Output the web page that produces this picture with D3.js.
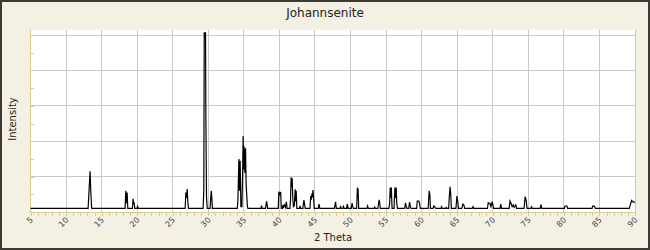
<!DOCTYPE html>
<html>
<head>
<meta charset="utf-8">
<script src="https://cdn.jsdelivr.net/npm/d3@7"></script>
<style>
  body { margin: 0; background: #f4f1e4; }
  svg { display: block; font-family: "DejaVu Sans", Verdana, sans-serif; }
</style>
</head>
<body>
<div id="xrd-chart"></div>
<script>
const chartTitle = "Johannsenite";
const xLabel = "2 Theta";
const yLabel = "Intensity";
const xTicks = [5, 10, 15, 20, 25, 30, 35, 40, 45, 50, 55, 60, 65, 70, 75, 80, 85, 90];
const xMinor = d3.range(5, 91, 1);
const yGrid = [20, 40, 60, 80, 100];
const yMinor = [0, 10, 20, 30, 40, 50, 60, 70, 80, 90, 100];

// [2 theta, intensity]
const pattern = [
  [5, 2],
  [13.1, 2], [13.25, 13.5], [13.38, 23], [13.48, 11], [13.6, 2],
  [18.3, 2], [18.4, 12], [18.5, 5], [18.59, 11], [18.68, 2],
  [19.33, 2], [19.43, 7.5], [19.5, 4.5], [19.57, 5.5], [19.66, 2],
  [19.97, 2], [20.05, 3.2], [20.18, 2],
  [26.75, 2], [26.84, 11], [26.94, 8], [27.03, 13], [27.12, 6], [27.22, 2],
  [29.27, 2], [29.37, 12.5], [29.43, 101.5], [29.52, 99], [29.61, 101.5], [29.66, 54], [29.75, 8.6], [29.85, 2],
  [30.25, 2], [30.34, 7.7], [30.42, 12], [30.5, 7.7], [30.58, 2],
  [34.08, 2], [34.17, 7], [34.3, 30], [34.39, 12], [34.48, 29], [34.58, 3], [34.72, 3], [34.82, 20], [34.9, 43],
  [34.97, 24], [35.04, 37], [35.14, 22], [35.24, 36], [35.32, 16], [35.4, 10], [35.5, 3], [35.58, 2],
  [37.4, 2], [37.49, 3.6], [37.58, 2],
  [38.04, 2], [38.12, 4.2], [38.19, 6], [38.27, 4.5], [38.35, 2],
  [39.84, 2], [39.92, 11.5], [40.06, 10], [40.18, 11.3], [40.26, 2],
  [40.42, 2], [40.5, 4], [40.6, 2.8], [40.72, 4], [40.84, 2.6], [40.98, 5.8], [41.08, 2],
  [41.48, 2], [41.56, 7], [41.65, 19.6], [41.72, 14], [41.79, 19], [41.88, 8], [41.97, 3], [42.1, 3.5],
  [42.22, 12.8], [42.29, 6], [42.36, 12], [42.45, 2],
  [42.82, 2], [42.9, 3.4], [43.0, 2],
  [43.3, 2], [43.37, 4.5], [43.45, 6.8], [43.55, 4], [43.63, 2],
  [44.3, 2], [44.4, 9], [44.48, 7], [44.56, 9.6], [44.64, 9], [44.72, 12.4], [44.8, 8], [44.9, 2],
  [45.45, 2], [45.57, 4.4], [45.68, 2],
  [47.72, 2], [47.82, 4], [47.9, 5.8], [48.0, 2],
  [48.5, 2], [48.6, 3], [48.7, 2], [48.9, 2], [49.0, 3.2], [49.1, 2],
  [49.44, 2], [49.55, 4.5], [49.66, 2],
  [50.1, 2], [50.22, 5], [50.32, 3], [50.4, 2],
  [50.86, 2], [50.96, 13.4], [51.06, 13], [51.15, 2],
  [52.3, 2], [52.4, 3.4], [52.5, 2],
  [53.3, 2], [53.4, 2.8], [53.5, 2],
  [53.85, 2], [53.94, 4.8], [54.03, 6.8], [54.12, 4.5], [54.2, 2],
  [55.4, 2], [55.5, 5], [55.58, 13.8], [55.66, 8], [55.74, 13.8], [55.84, 2],
  [56.12, 2], [56.24, 13.8], [56.33, 8], [56.42, 13.8], [56.5, 5], [56.6, 2],
  [57.62, 2], [57.72, 5.2], [57.84, 3], [57.95, 2],
  [58.18, 2], [58.3, 5.6], [58.42, 3], [58.52, 2],
  [59.3, 2], [59.38, 6.2], [59.6, 6.2], [59.7, 5], [59.8, 2],
  [60.92, 2], [61.0, 8], [61.06, 11.9], [61.15, 10], [61.24, 2],
  [61.6, 2], [61.72, 3.4], [61.86, 2.8], [61.98, 2],
  [62.7, 2], [62.8, 3], [62.9, 2],
  [63.35, 2], [63.45, 2.6], [63.55, 2],
  [63.8, 2], [63.88, 8], [64.0, 14.3], [64.1, 9.6], [64.18, 2],
  [64.82, 2], [64.96, 9], [65.08, 5.8], [65.18, 2],
  [65.65, 2], [65.8, 4.5], [65.95, 3.8], [66.06, 2],
  [67.1, 2], [67.22, 3], [67.34, 2],
  [69.25, 2], [69.36, 5.2], [69.5, 4.8], [69.6, 4.9], [69.75, 3], [69.92, 5.8], [70.02, 4], [70.12, 2],
  [71.02, 2], [71.12, 4.4], [71.24, 2],
  [72.3, 2], [72.42, 6.2], [72.58, 4.8], [72.72, 3], [72.88, 4], [73.0, 2.6], [73.24, 4], [73.36, 2],
  [74.4, 2], [74.48, 5.8], [74.56, 8.7], [74.7, 6.4], [74.82, 2],
  [75.35, 2], [75.45, 3], [75.56, 2],
  [76.66, 2], [76.78, 4.2], [76.9, 2],
  [80.06, 2], [80.16, 3.4], [80.42, 3.4], [80.54, 2],
  [83.96, 2], [84.06, 3.4], [84.3, 3.2], [84.42, 2],
  [89.19, 2], [89.53, 6.6], [89.76, 5.6], [90, 5.6]
];

class PatternChart {
    constructor(id){
        this.width = 650;
        this.height = 250;
        // plot area inside the beige frame
        this.margin = {top: 30, right: 14, bottom: 38, left: 30};
        this.plotW = this.width - this.margin.left - this.margin.right;
        this.plotH = this.height - this.margin.top - this.margin.bottom;

        this.svg = d3.select(`#${id}`).append('svg')
            .attr('width', this.width).attr('height', this.height);
    }

    draw(data){
        const m = this.margin;
        const axisColor = "#d8cf8e";
        const gridColor = "#c9c9c9";

        var x = d3.scaleLinear()
            .domain([5, 90])
            .range([m.left + 0.5, m.left + this.plotW - 1]);
        var y = d3.scaleLinear()
            .domain([0, 100])
            .range([m.top + this.plotH, m.top + 5]);

        // background + frame
        this.svg.append("rect")
            .attr("width", this.width).attr("height", this.height)
            .attr("fill", "#f4f1e4");
        this.svg.append("rect")
            .attr("x", m.left).attr("y", m.top)
            .attr("width", this.plotW).attr("height", this.plotH)
            .attr("fill", "#ffffff");

        // grid
        const snap = v => Math.round(v) + 0.5;
        this.svg.append("g").selectAll("line")
            .data(xTicks.slice(1))
            .join("line")
            .attr("x1", d => snap(x(d) - 0.5)).attr("x2", d => snap(x(d) - 0.5))
            .attr("y1", m.top).attr("y2", m.top + this.plotH)
            .attr("stroke", gridColor);
        this.svg.append("g").selectAll("line")
            .data(yGrid)
            .join("line")
            .attr("x1", m.left).attr("x2", m.left + this.plotW)
            .attr("y1", d => snap(y(d) - 0.5)).attr("y2", d => snap(y(d) - 0.5))
            .attr("stroke", gridColor);

        // y axis: minor ticks only, no labels
        const yAxis = this.svg.append("g")
            .attr("transform", `translate(${m.left + 0.5},0)`)
            .call(d3.axisLeft(y).tickValues(yMinor).tickSize(-3).tickFormat(""));
        yAxis.select(".domain").attr("d", `M0,${m.top}V${m.top + this.plotH}`);

        // x axis: ticks every degree, rotated labels every 5
        const base = m.top + this.plotH + 0.5;
        const xAxis = this.svg.append("g")
            .attr("transform", `translate(0,${base})`)
            .call(d3.axisBottom(x).tickValues(xMinor).tickSize(3).tickFormat(""));
        xAxis.select(".domain").attr("d", `M${m.left},0H${m.left + this.plotW}`);
        [yAxis, xAxis].forEach(a => {
            a.selectAll("path, line").attr("stroke", axisColor).attr("shape-rendering", "crispEdges");
        });

        this.svg.append("g").selectAll("text")
            .data(xTicks)
            .join("text")
            .attr("transform", d => `translate(${x(d) + 1},${base + 6}) rotate(-45)`)
            .attr("text-anchor", "end")
            .attr("dy", "0.35em")
            .attr("font-size", 8)
            .attr("fill", "#444")
            .text(d => d);

        // the pattern
        this.svg.append("clipPath").attr("id", "plot-clip")
            .append("rect")
            .attr("x", m.left).attr("y", m.top)
            .attr("width", this.plotW).attr("height", this.plotH);
        this.svg.append("path")
            .datum(data)
            .attr("clip-path", "url(#plot-clip)")
            .attr("fill", "none")
            .attr("stroke", "#000")
            .attr("stroke-width", 1.2)
            .attr("stroke-linejoin", "miter")
            .attr("d", d3.line()
                .x(d => x(d[0]))
                .y(d => y(d[1]))
            );

        // titles
        this.svg.append("text")
            .attr("x", this.width / 2).attr("y", 16.5)
            .attr("text-anchor", "middle")
            .attr("font-size", 12).attr("fill", "#222")
            .text(chartTitle);
        this.svg.append("text")
            .attr("x", m.left + this.plotW / 2).attr("y", 241)
            .attr("text-anchor", "middle")
            .attr("font-size", 10).attr("fill", "#222")
            .text(xLabel);
        this.svg.append("text")
            .attr("transform", `translate(16,${m.top + this.plotH / 2 - 2}) rotate(-90)`)
            .attr("text-anchor", "middle")
            .attr("font-size", 10).attr("fill", "#222")
            .text(yLabel);

        // dark outer border
        this.svg.append("rect")
            .attr("x", 1).attr("y", 1)
            .attr("width", this.width - 2).attr("height", this.height - 2)
            .attr("fill", "none")
            .attr("stroke", "#3b3a33")
            .attr("stroke-width", 2);
    }
}

let chart = new PatternChart("xrd-chart");
chart.draw(pattern);
</script>
</body>
</html>
